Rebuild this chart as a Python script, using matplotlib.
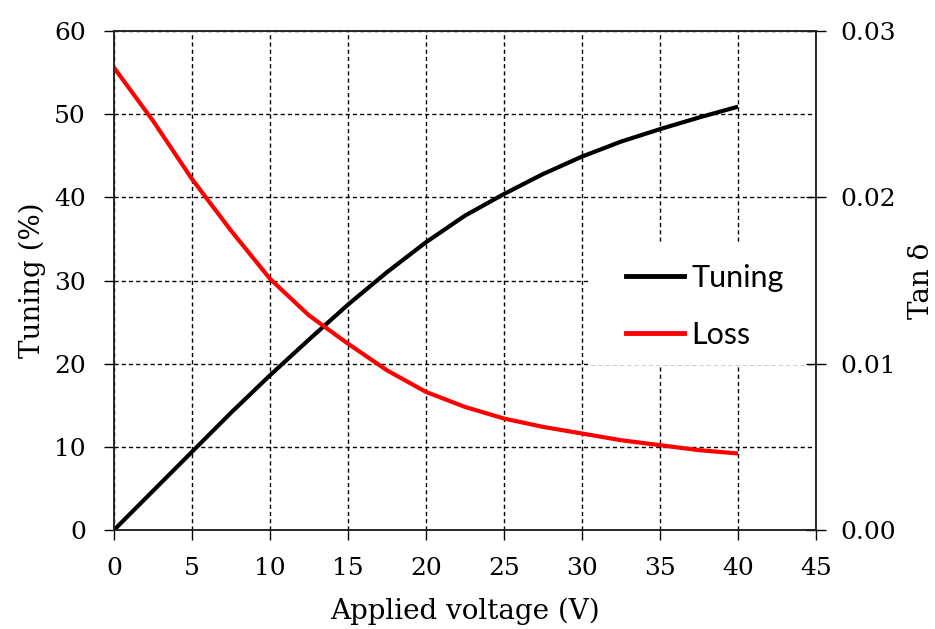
import matplotlib
matplotlib.use("Agg")
import matplotlib.pyplot as plt
from matplotlib.patches import Rectangle
from matplotlib.lines import Line2D

voltage = [0, 2.5, 5, 7.5, 10, 12.5, 15, 17.5, 20, 22.5, 25, 27.5, 30, 32.5, 35, 37.5, 40]
tuning = [0, 4.7, 9.4, 14.1, 18.6, 22.9, 27.1, 31.0, 34.6, 37.8, 40.4, 42.8, 44.9, 46.7, 48.2, 49.6, 50.9]
loss = [0.0278, 0.0246, 0.0211, 0.0180, 0.0151, 0.0129, 0.0112, 0.0096, 0.0083, 0.0074,
        0.0067, 0.0062, 0.0058, 0.0054, 0.0051, 0.0048, 0.0046]

x_ticks = [0, 5, 10, 15, 20, 25, 30, 35, 40, 45]
y_ticks = [0, 10, 20, 30, 40, 50, 60]
y2_ticks = [0.00, 0.01, 0.02, 0.03]
y2_labels = ["0.00", "0.01", "0.02", "0.03"]

serif = ["DejaVu Serif"]
sans = ["Lato", "DejaVu Sans"]

fig = plt.figure(figsize=(9.35, 6.29), dpi=100)
ax = fig.add_axes([114/935, 1-530/629, (816-114)/935, (530-31)/629])
ax2 = ax.twinx()

ax.set_xlim(0, 45)
ax.set_ylim(0, 60)
ax2.set_ylim(0, 0.03)

ax.set_xticks(x_ticks)
ax.set_yticks(y_ticks)
ax2.set_yticks(y2_ticks)
ax2.set_yticklabels(y2_labels)

ax.grid(True, color="black", linestyle=(0, (3, 2.2)), linewidth=1.0)
ax.set_axisbelow(True)

for a in (ax, ax2):
    for s in a.spines.values():
        s.set_linewidth(1.1)
        s.set_color("#222222")
        s.set_zorder(6)

ax.tick_params(axis="y", direction="out", length=7.2, width=1.0, labelsize=18, pad=13)
ax.tick_params(axis="x", direction="out", length=7.2, width=1.0, labelsize=18, pad=12)
ax2.tick_params(axis="y", direction="inout", length=14.4, width=1.0, labelsize=18, pad=10)
for lab in ax.get_xticklabels() + ax.get_yticklabels() + ax2.get_yticklabels():
    lab.set_family(serif)

ax.plot(voltage, tuning, color="black", lw=3.0, solid_capstyle="butt", zorder=3)
ax2.plot(voltage, loss, color="#ff0000", lw=3.0, solid_capstyle="butt", zorder=3)

# white area behind legend (covers grid)
ax2.add_patch(Rectangle((0.676, 0.33), 0.32, 0.246, transform=ax2.transAxes,
                        facecolor="white", edgecolor="none", zorder=1))

handles = [Line2D([], [], color="black", lw=3.5), Line2D([], [], color="#ff0000", lw=3.5)]
leg = ax2.legend(handles, ["Tuning", "Loss"], loc="center left",
                 bbox_to_anchor=(0.69, 0.448), frameon=False,
                 prop={"family": sans, "size": 22}, handlelength=1.9,
                 handletextpad=0.25, labelspacing=0.95)
leg.set_zorder(5)

ax.set_xlabel("Applied voltage (V)", family=serif, fontsize=20, labelpad=13)
ax.set_ylabel("Tuning (%)", family=serif, fontsize=20, labelpad=6)
ax2.set_ylabel("Tan δ", family=serif, fontsize=20, labelpad=9)

fig.savefig("out.png", dpi=100)
